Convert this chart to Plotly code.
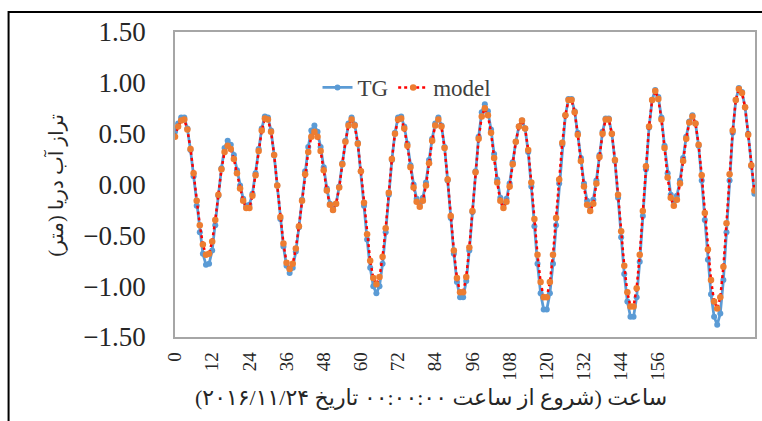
import plotly.graph_objects as go

# Hourly sea level (m): tide gauge record and model output
hours = list(range(188))

tg = [
    0.52, 0.60, 0.66, 0.66, 0.55, 0.34, 0.08, -0.21, -0.47, -0.68, -0.79, -0.78,
    -0.65, -0.40, -0.11, 0.16, 0.36, 0.43, 0.39, 0.29, 0.14, -0.01, -0.14, -0.21,
    -0.20, -0.09, 0.11, 0.35, 0.55, 0.67, 0.66, 0.53, 0.29, -0.01, -0.34, -0.61,
    -0.80, -0.87, -0.82, -0.66, -0.42, -0.15, 0.13, 0.37, 0.53, 0.58, 0.52, 0.37,
    0.17, -0.04, -0.19, -0.25, -0.19, -0.02, 0.21, 0.43, 0.60, 0.66, 0.59, 0.41,
    0.13, -0.21, -0.54, -0.82, -1.00, -1.07, -1.00, -0.78, -0.47, -0.10, 0.24, 0.51,
    0.66, 0.67, 0.57, 0.40, 0.19, 0.00, -0.14, -0.19, -0.13, 0.02, 0.24, 0.45,
    0.60, 0.66, 0.58, 0.37, 0.04, -0.33, -0.68, -0.96, -1.11, -1.11, -0.95, -0.65,
    -0.27, 0.13, 0.47, 0.71, 0.79, 0.72, 0.54, 0.30, 0.05, -0.13, -0.20, -0.14,
    0.01, 0.22, 0.42, 0.57, 0.63, 0.55, 0.32, -0.02, -0.41, -0.78, -1.07, -1.23,
    -1.23, -1.07, -0.78, -0.40, 0.01, 0.39, 0.68, 0.84, 0.84, 0.72, 0.51, 0.26,
    0.01, -0.16, -0.22, -0.15, 0.04, 0.29, 0.52, 0.65, 0.65, 0.50, 0.23, -0.13,
    -0.52, -0.88, -1.15, -1.30, -1.30, -1.11, -0.76, -0.31, 0.15, 0.56, 0.83, 0.93,
    0.86, 0.66, 0.38, 0.11, -0.10, -0.17, -0.11, 0.04, 0.26, 0.47, 0.62, 0.68,
    0.60, 0.38, 0.04, -0.35, -0.74, -1.08, -1.30, -1.38, -1.27, -0.94, -0.47, 0.04,
    0.51, 0.83, 0.95, 0.91, 0.76, 0.50, 0.18, -0.09,
]

model = [
    0.47, 0.57, 0.63, 0.64, 0.54, 0.35, 0.11, -0.16, -0.40, -0.59, -0.69, -0.68,
    -0.56, -0.35, -0.10, 0.15, 0.32, 0.38, 0.35, 0.25, 0.11, -0.04, -0.16, -0.23,
    -0.23, -0.11, 0.09, 0.33, 0.53, 0.65, 0.64, 0.52, 0.29, -0.01, -0.32, -0.58,
    -0.77, -0.83, -0.78, -0.63, -0.41, -0.16, 0.10, 0.32, 0.47, 0.52, 0.47, 0.33,
    0.14, -0.06, -0.20, -0.25, -0.19, -0.03, 0.20, 0.42, 0.58, 0.64, 0.58, 0.40,
    0.13, -0.18, -0.49, -0.75, -0.92, -0.98, -0.91, -0.71, -0.43, -0.08, 0.25, 0.50,
    0.64, 0.65, 0.55, 0.38, 0.17, -0.03, -0.17, -0.22, -0.16, -0.01, 0.21, 0.43,
    0.58, 0.64, 0.57, 0.36, 0.05, -0.31, -0.65, -0.92, -1.06, -1.06, -0.91, -0.62,
    -0.26, 0.12, 0.45, 0.67, 0.75, 0.68, 0.51, 0.26, 0.02, -0.16, -0.23, -0.17,
    -0.02, 0.20, 0.42, 0.57, 0.63, 0.55, 0.34, 0.02, -0.34, -0.69, -0.96, -1.11,
    -1.11, -0.96, -0.69, -0.33, 0.05, 0.41, 0.68, 0.83, 0.83, 0.71, 0.49, 0.23,
    -0.02, -0.20, -0.26, -0.19, 0.01, 0.27, 0.50, 0.64, 0.64, 0.50, 0.24, -0.10,
    -0.46, -0.80, -1.06, -1.20, -1.20, -1.02, -0.69, -0.26, 0.18, 0.57, 0.83, 0.92,
    0.84, 0.64, 0.36, 0.07, -0.13, -0.21, -0.15, 0.01, 0.23, 0.45, 0.61, 0.67,
    0.60, 0.39, 0.09, -0.28, -0.64, -0.94, -1.15, -1.22, -1.11, -0.81, -0.38, 0.10,
    0.53, 0.83, 0.94, 0.90, 0.76, 0.49, 0.19, -0.06,
]

x_ticks = [0, 12, 24, 36, 48, 60, 72, 84, 96, 108, 120, 132, 144, 156]
y_ticks = [-1.5, -1.0, -0.5, 0.0, 0.5, 1.0, 1.5]

y_title = "\u202bتراز آب دریا (متر)\u202c"
x_title = "\u202bساعت (شروع از ساعت ۰۰:۰۰:۰۰ تاریخ ۲۰۱۶/۱۱/۲۴)\u202c"

W, H = 762, 421
L, R, T, B = 175, 5, 32, 84
pw, ph = W - L - R, H - T - B


def px(x):
    return (x - L) / pw


def py(y):
    return (H - B - y) / ph


serif = "Liberation Serif, Times New Roman, serif"
arabic = "Liberation Serif, DejaVu Sans, sans-serif"

fig = go.Figure()
fig.add_trace(go.Scatter(
    x=hours, y=tg, name="TG", mode="lines+markers",
    line=dict(color="#5B9BD5", width=2.75),
    marker=dict(color="#5B9BD5", size=6, symbol="circle"),
))
fig.add_trace(go.Scatter(
    x=hours, y=model, name="model", mode="lines+markers",
    line=dict(color="#FF0000", width=2.5, dash="dot"),
    marker=dict(color="#ED7D31", size=6.5, symbol="circle"),
))

fig.update_layout(
    width=W, height=H, autosize=False,
    margin=dict(l=L, r=R, t=T, b=B, pad=0),
    paper_bgcolor="white", plot_bgcolor="white",
    showlegend=True,
    legend=dict(
        orientation="h", x=px(318), y=py(66), xanchor="left", yanchor="top",
        font=dict(family=serif, size=23, color="#404040"),
        bgcolor="rgba(0,0,0,0)", itemwidth=30, tracegroupgap=0,
    ),
    xaxis=dict(
        range=[0, 187.2], tickmode="array", tickvals=x_ticks,
        ticktext=[str(v) for v in x_ticks], tickangle=-90,
        tickfont=dict(family=serif, size=19, color="#262626"),
        showgrid=False, zeroline=False,
        showline=True, mirror=True, linecolor="#A6A6A6", linewidth=1.5,
        ticks="", ticklabelstandoff=6,
    ),
    yaxis=dict(
        range=[-1.5, 1.5], tickmode="array", tickvals=y_ticks,
        tickformat=".2f",
        tickfont=dict(family=serif, size=27, color="#262626"),
        showgrid=False, zeroline=False,
        showline=True, mirror=True, linecolor="#A6A6A6", linewidth=1.5,
        ticks="", ticklabelstandoff=22,
    ),
)

# outer chart frame
fig.add_shape(type="rect", xref="paper", yref="paper",
              x0=px(8), x1=px(775), y0=py(435), y1=py(12),
              line=dict(color="black", width=2), fillcolor="rgba(0,0,0,0)")

fig.add_annotation(text=y_title, xref="paper", yref="paper",
                   x=px(55), y=py(185), xanchor="center", yanchor="middle",
                   showarrow=False, textangle=-90,
                   font=dict(family=arabic, size=20, color="#262626"))
fig.add_annotation(text=x_title, xref="paper", yref="paper",
                   x=px(432), y=py(397), xanchor="center", yanchor="middle",
                   showarrow=False,
                   font=dict(family=arabic, size=22, color="#262626"))

fig.write_html("out.html")
